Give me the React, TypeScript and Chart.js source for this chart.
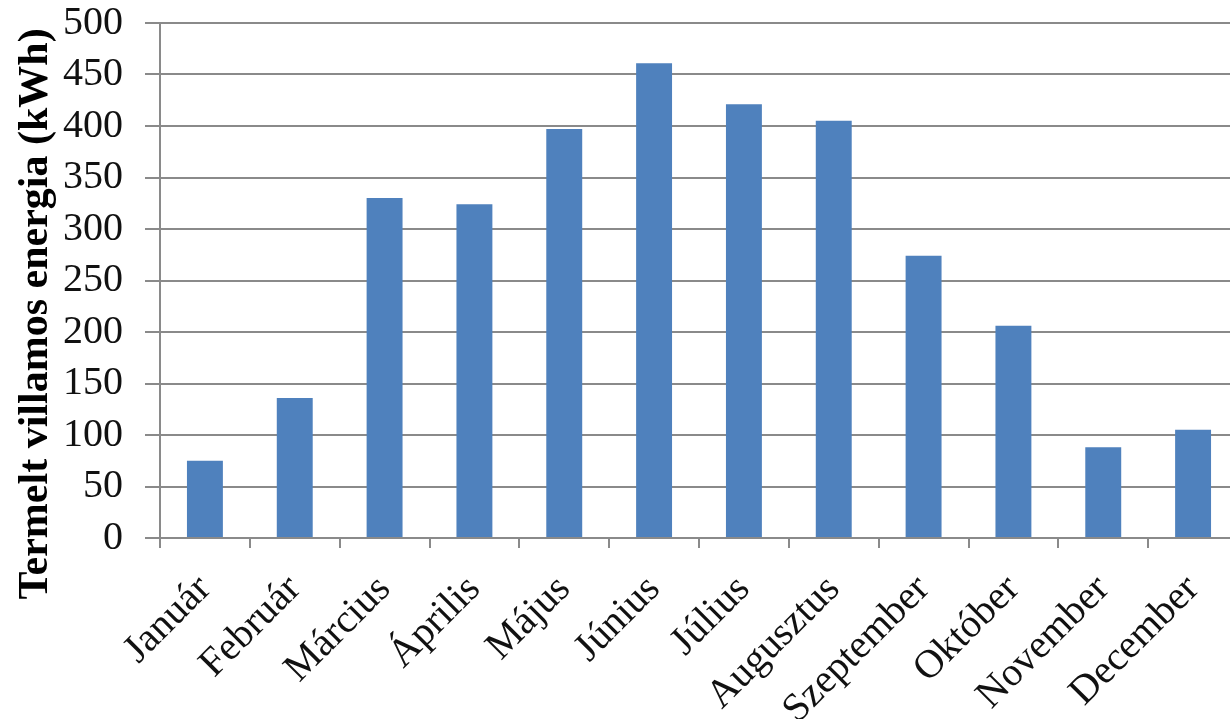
import React, { useEffect, useRef } from "react";
import { Chart, registerables } from "chart.js";

Chart.register(...registerables);

const MONTHS = [
  "Január", "Február", "Március", "Április", "Május", "Június",
  "Július", "Augusztus", "Szeptember", "Október", "November", "December",
];
const ENERGY_KWH = [75, 136, 330, 324, 397, 461, 421, 405, 274, 206, 88, 105];
const Y_TITLE = "Termelt villamos energia (kWh)";
const Y_MIN = 0;
const Y_MAX = 500;
const Y_STEP = 50;

const BAR_COLOR = "#4F81BD";
const GRID_COLOR = "#8a8a8a";
const FONT = '"Liberation Serif", "Times New Roman", serif';

const yTitlePlugin = {
  id: "yTitlePlugin",
  afterDraw(chart: any) {
    const { ctx, chartArea } = chart;
    ctx.save();
    ctx.translate(36, chartArea.top + chartArea.height * 0.565);
    ctx.rotate(-Math.PI / 2);
    ctx.font = `bold 42px ${FONT}`;
    ctx.fillStyle = "#000";
    ctx.textAlign = "center";
    ctx.textBaseline = "middle";
    ctx.fillText(Y_TITLE, 0, 0);
    ctx.restore();
  },
};

export default function App() {
  const canvasRef = useRef<HTMLCanvasElement | null>(null);

  useEffect(() => {
    document.body.style.margin = "0";
    const canvas = canvasRef.current;
    if (!canvas) return;
    const chart = new Chart(canvas, {
      type: "bar",
      data: {
        labels: MONTHS,
        datasets: [
          {
            data: ENERGY_KWH,
            backgroundColor: BAR_COLOR,
            borderWidth: 0,
            barPercentage: 0.4,
            categoryPercentage: 1,
          },
        ],
      },
      options: {
        animation: false,
        responsive: false,
        maintainAspectRatio: false,
        layout: { padding: { top: 23, right: 0, left: 0, bottom: 0 } },
        plugins: {
          legend: { display: false },
          tooltip: { enabled: false },
          title: { display: false },
        },
        scales: {
          x: {
            offset: true,
            grid: {
              offset: true,
              drawOnChartArea: false,
              drawTicks: true,
              tickLength: 10,
              color: GRID_COLOR,
              lineWidth: 2,
            },
            border: { color: GRID_COLOR, width: 2 },
            ticks: {
              autoSkip: false,
              maxRotation: 45,
              minRotation: 45,
              padding: 18,
              color: "#111",
              font: { family: FONT, size: 40 },
            },
            afterFit(scale: any) {
              scale.height = 181;
              scale.paddingLeft = 0;
              scale.paddingRight = 0;
            },
          },
          y: {
            min: Y_MIN,
            max: Y_MAX,
            ticks: {
              stepSize: Y_STEP,
              padding: 22,
              color: "#111",
              font: { family: FONT, size: 40 },
            },
            grid: {
              color: GRID_COLOR,
              lineWidth: 2,
              tickLength: 15,
            },
            border: { color: GRID_COLOR, width: 2 },
            afterFit(scale: any) {
              scale.width = 160;
              scale.paddingTop = 0;
              scale.paddingBottom = 0;
            },
          },
        },
      },
      plugins: [yTitlePlugin],
    });
    return () => chart.destroy();
  }, []);

  return (
    <div style={{ position: "absolute", left: 0, top: 0, width: 1230, height: 719, overflow: "hidden", background: "#fff" }}>
      <canvas ref={canvasRef} width={1238} height={719} style={{ width: 1238, height: 719, display: "block" }} />
    </div>
  );
}
